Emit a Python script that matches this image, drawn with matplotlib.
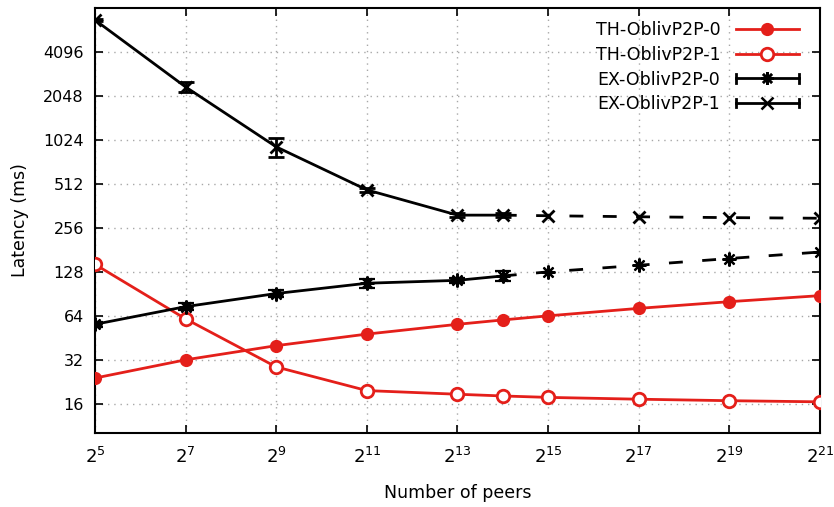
import numpy as np
import matplotlib
matplotlib.use("Agg")
import matplotlib.pyplot as plt
from matplotlib.lines import Line2D
from matplotlib.legend_handler import HandlerBase

plt.rcParams["font.family"] = ["DejaVu Sans"]
plt.rcParams["lines.scale_dashes"] = False

RED = "#e41f1a"

# peers (powers of two) and latency in ms
peers_exp = [5, 7, 9, 11, 13, 14, 15, 17, 19, 21]
th0 = [24, 32, 40, 48, 56, 60, 64, 72, 80, 88]
th1 = [144, 61, 28.6, 19.7, 18.6, 18.1, 17.7, 17.2, 16.8, 16.5]

# measured points (solid part, with error bars)
ex_exp = [5, 7, 9, 11, 13, 14]
ex0 = [56, 74, 91, 107, 112, 120]
ex0_err = [2, 4, 5, 8, 5, 10]
ex1 = [6780, 2360, 918, 466, 313, 313]
ex1_err = [150, 180, 140, 15, 10, 10]

# extrapolated part (dashed)
proj_exp = [14, 15, 17, 19, 21]
proj0 = [120, 128, 142, 158, 175]
proj1 = [313, 310, 305, 301, 298]

xticks_exp = [5, 7, 9, 11, 13, 15, 17, 19, 21]
yticks = [16, 32, 64, 128, 256, 512, 1024, 2048, 4096]


class CapLine(HandlerBase):
    """gnuplot-style key sample: line with end caps and a marker."""

    def __init__(self, marker, **kw):
        super().__init__(**kw)
        self.marker = marker

    def create_artists(self, legend, orig_handle, xdescent, ydescent,
                       width, height, fontsize, trans):
        y = height / 2 - ydescent
        x0, x1 = -xdescent, width - xdescent
        c = height * 0.35
        arts = [
            Line2D([x0, x1], [y, y], color="k", lw=2),
            Line2D([x0, x0], [y - c, y + c], color="k", lw=2),
            Line2D([x1, x1], [y - c, y + c], color="k", lw=2),
            Line2D([(x0 + x1) / 2], [y], marker=self.marker, color="k",
                   ms=9, mew=1.8, ls="none"),
        ]
        for a in arts:
            a.set_transform(trans)
        return arts


fig = plt.figure(figsize=(8.34, 5.07), dpi=100)
ax = fig.add_axes([0.1139, 0.146, 0.8693, 0.8382])

x = [2 ** e for e in peers_exp]
xe = [2 ** e for e in ex_exp]
xp = [2 ** e for e in proj_exp]

asterisk = (8, 2, 0)

l_th0, = ax.plot(x, th0, color=RED, lw=2, marker="o", ms=9.5, mew=0,
                 label="TH-OblivP2P-0", zorder=3)
l_th1, = ax.plot(x, th1, color=RED, lw=2, marker="o", ms=9, mfc="white",
                 mew=2, label="TH-OblivP2P-1", zorder=3)

e0 = ax.errorbar(xe, ex0, yerr=ex0_err, color="k", lw=2, marker=asterisk,
                 ms=10, mew=1.6, capsize=6, capthick=2, elinewidth=2,
                 label="EX-OblivP2P-0", zorder=4)
e1 = ax.errorbar(xe, ex1, yerr=ex1_err, color="k", lw=2, marker="x",
                 ms=9, mew=2, capsize=6, capthick=2, elinewidth=2,
                 label="EX-OblivP2P-1", zorder=4)

for ys in (proj0, proj1):
    ax.plot(xp, ys, color="k", lw=2, dashes=(10, 14), zorder=4)
ax.plot(xp[1:], proj0[1:], ls="none", color="k", marker=asterisk, ms=10,
        mew=1.6, zorder=4)
ax.plot(xp[1:], proj1[1:], ls="none", color="k", marker="x", ms=9,
        mew=2, zorder=4)

ax.set_xscale("log", base=2)
ax.set_yscale("log", base=2)
ax.set_xlim(2 ** 5, 2 ** 21)
ax.set_ylim(10.1, 8192)

ax.set_xticks([2 ** e for e in xticks_exp])
ax.set_xticklabels([rf"$2^{{{e}}}$" for e in xticks_exp])
ax.set_yticks(yticks)
ax.set_yticklabels([str(v) for v in yticks])
ax.minorticks_off()

ax.tick_params(direction="in", length=6, width=1.2, top=True, right=True,
               labelsize=11.5, pad=8, colors="k")
ax.tick_params(axis="x", labelsize=13, pad=10)
ax.grid(True, color="#a8a8a8", ls=(0, (1, 3.5)), lw=1)
for s in ax.spines.values():
    s.set_linewidth(1.5)

ax.set_xlabel("Number of peers", fontsize=12.5, labelpad=12)
ax.set_ylabel("Latency (ms)", fontsize=12.5, labelpad=10)

ax.legend([l_th0, l_th1, e0, e1],
          ["TH-OblivP2P-0", "TH-OblivP2P-1", "EX-OblivP2P-0", "EX-OblivP2P-1"],
          handler_map={e0: CapLine(asterisk), e1: CapLine("x")},
          loc="upper right", bbox_to_anchor=(0.98, 0.985), frameon=False,
          markerfirst=False, fontsize=12.5, handlelength=3.6,
          labelspacing=0.38, handletextpad=0.9, borderaxespad=0)

fig.savefig("out.png", dpi=100)
